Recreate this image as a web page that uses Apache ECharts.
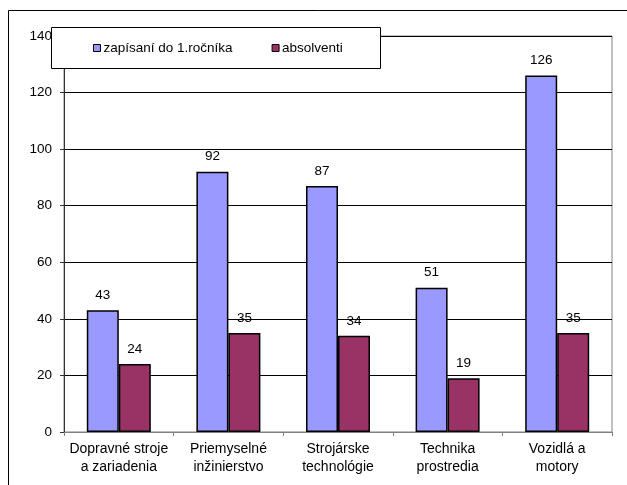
<!DOCTYPE html>
<html><head><meta charset="utf-8">
<script src="https://cdn.jsdelivr.net/npm/echarts@6/dist/echarts.min.js"></script>
<style>html,body{margin:0;padding:0;background:#fff}#c{width:627px;height:485px}</style>
</head><body><div id="c"></div>
<script>
const categories = ['Dopravné stroje\na zariadenia','Priemyselné\ninžinierstvo','Strojárske\ntechnológie','Technika\nprostredia','Vozidlá a\nmotory'];
const zapisani = [43, 92, 87, 51, 126];
const absolventi = [24, 35, 34, 19, 35];
const seriesNames = ['zapísaní do 1.ročníka', 'absolventi'];

const chart = echarts.init(document.getElementById('c'));
const font = 'Liberation Sans, Arial, sans-serif';
chart.setOption({
  animation: false,
  graphic: [
    {type:'rect', shape:{x:8.5,y:10.5,width:700,height:600}, style:{fill:'none',stroke:'#000',lineWidth:1}, z:-10},
    {type:'rect', shape:{x:51.5,y:27.5,width:329,height:41}, style:{fill:'#fff',stroke:'#000',lineWidth:1}, z:100}
  ],
  legend: {
    left: 88, top: 36, itemWidth: 7, itemHeight: 7, itemGap: 39, z: 101,
    icon: 'rect',
    textStyle: {fontFamily: font, fontSize: 13.5, color: '#000', padding:[0,0,0,-2]},
    itemStyle: {borderColor:'#000', borderWidth:1},
    data: seriesNames
  },
  grid: {left: 64, right: 15, top: 36, bottom: 53, show: true, borderColor: '#808080', borderWidth: 1},
  xAxis: {
    type: 'category', data: categories,
    axisLine: {lineStyle:{color:'#808080'}},
    axisTick: {show:true, lineStyle:{color:'#808080'}, length:4},
    axisLabel: {interval: 0, fontFamily: font, fontSize: 14, color:'#000', lineHeight: 18, margin: 8}
  },
  yAxis: {
    type: 'value', min: 0, max: 140, interval: 20,
    axisLine: {show:true, lineStyle:{color:'#333'}},
    axisTick: {show:true, inside:false, length:4, lineStyle:{color:'#333'}},
    splitLine: {lineStyle:{color:'#000'}},
    axisLabel: {fontFamily: font, fontSize: 13.5, color:'#000', margin: 12}
  },
  series: [
    {name: seriesNames[0], type:'bar', data: zapisani, barWidth: 32, barGap: '0%',
     itemStyle:{color:'#9999FF', borderColor:'#000', borderWidth:1.5},
     label:{show:true, position:'top', distance:8, fontFamily:font, fontSize:13.5, color:'#000'}},
    {name: seriesNames[1], type:'bar', data: absolventi, barWidth: 32,
     itemStyle:{color:'#993366', borderColor:'#000', borderWidth:1.5},
     label:{show:true, position:'top', distance:8, fontFamily:font, fontSize:13.5, color:'#000'}}
  ]
});
</script></body></html>
